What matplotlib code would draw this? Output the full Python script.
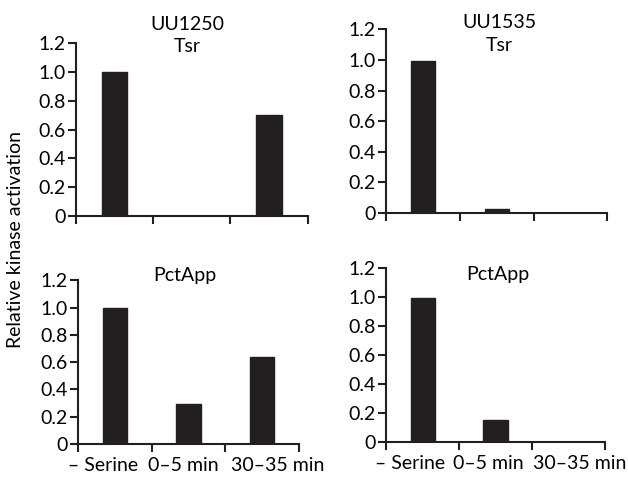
import numpy as np
import matplotlib
matplotlib.use('Agg')
import matplotlib.pyplot as plt
import matplotlib.transforms as mtransforms

plt.rcParams['font.family'] = ['Lato', 'DejaVu Sans']

# data
categories = ['\u2013 Serine', '0\u20135 min', '30\u201335 min']
uu1250_tsr = [1.0, 0.0, 0.70]
uu1535_tsr = [0.99, 0.03, 0.0]
uu1250_pct = [1.0, 0.29, 0.64]
uu1535_pct = [0.99, 0.15, 0.0]
yticks = [0, 0.2, 0.4, 0.6, 0.8, 1.0, 1.2]
ytick_labels = ['0', '0.2', '0.4', '0.6', '0.8', '1.0', '1.2']

fig = plt.figure(figsize=(6.28, 4.79), dpi=100)

panels = [
    # values, [left, bottom, width, height], title, title pos, label shifts (px)
    (uu1250_tsr, [0.121, 0.549, 0.369, 0.361], 'UU1250\nTsr', (0.48, 1.045), None),
    (uu1535_tsr, [0.615, 0.555, 0.352, 0.384], 'UU1535\nTsr', (0.51, 0.975), None),
    (uu1250_pct, [0.124, 0.073, 0.352, 0.342], 'PctApp', (0.486, 1.03), [-12, -5, 16]),
    (uu1535_pct, [0.615, 0.077, 0.348, 0.364], 'PctApp', (0.51, 0.96), [-13, -7, 11]),
]

x = np.arange(len(categories))
for vals, rect, title, tpos, shifts in panels:
    ax = fig.add_axes(rect)
    ax.bar(x, vals, width=0.33, color='#231f20', edgecolor='#231f20')
    ax.set_xlim(-0.5, 2.5)
    ax.set_ylim(0, 1.2)
    for s in ['top', 'right']:
        ax.spines[s].set_visible(False)
    for s in ['left', 'bottom']:
        ax.spines[s].set_linewidth(1.5)
        ax.spines[s].set_color('#231f20')
    ax.set_yticks(yticks)
    ax.set_yticklabels(ytick_labels, fontsize=14)
    ax.set_xticks(x)
    ax.set_xticks([-0.5, 0.5, 1.5, 2.5], minor=True)
    ax.tick_params(axis='x', which='major', length=0, pad=9)
    ax.tick_params(axis='x', which='minor', length=6, width=1.5, color='#231f20')
    ax.tick_params(axis='y', length=6, width=1.5, color='#231f20', pad=1.5)
    if shifts is not None:
        ax.set_xticklabels(categories, fontsize=14)
        for lab, dx in zip(ax.get_xticklabels(), shifts):
            lab.set_transform(lab.get_transform() +
                              mtransforms.ScaledTranslation(dx / 100, 0, fig.dpi_scale_trans))
    else:
        ax.set_xticklabels([])
    ax.text(tpos[0], tpos[1], title, transform=ax.transAxes, ha='center',
            va='center', fontsize=14, linespacing=1.4)

fig.text(0.024, 0.5, 'Relative kinase activation', rotation=90,
         ha='center', va='center', fontsize=14)

fig.savefig('out.png', dpi=100)
